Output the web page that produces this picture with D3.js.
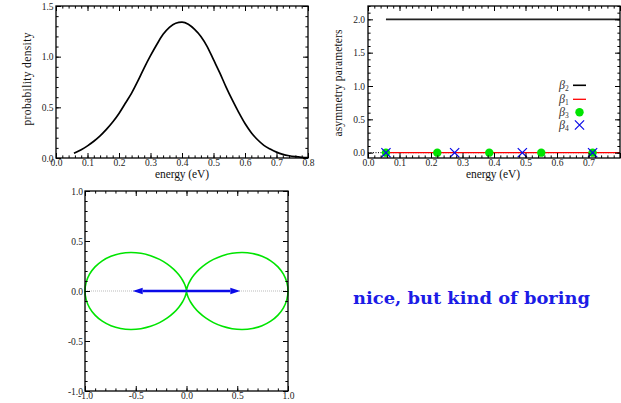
<!DOCTYPE html>
<html><head><meta charset="utf-8">
<script src="https://cdn.jsdelivr.net/npm/d3@7"></script>
<style>
body{margin:0;background:#fff}
svg{display:block}
text{font-family:"Liberation Serif","Times New Roman",serif;fill:#111}
</style>
</head><body>
<svg id="chart" width="621" height="403"></svg>
<script>
// ---------- data ----------
const energy = [0.057,0.08,0.10,0.12,0.14,0.16,0.18,0.20,0.22,0.24,0.26,0.28,0.30,0.32,0.34,0.36,0.38,0.40,0.42,0.44,0.46,0.48,0.50,0.52,0.54,0.56,0.58,0.60,0.62,0.64,0.66,0.68,0.70,0.72,0.74,0.76,0.78,0.80];
const density = [0.046,0.082,0.120,0.165,0.218,0.282,0.355,0.44,0.54,0.64,0.76,0.89,1.01,1.12,1.22,1.29,1.33,1.34,1.32,1.27,1.20,1.10,0.97,0.84,0.70,0.57,0.45,0.34,0.25,0.18,0.125,0.088,0.058,0.036,0.022,0.013,0.007,0.003];

const beta2Energy = [0.057,0.8];
const beta2Value = [2.0,2.0];
const beta1Energy = [0.057,0.8];
const beta1Value = [0.0,0.0];
const beta3Energy = [0.057,0.22,0.385,0.55,0.713];
const beta3Value = [0,0,0,0,0];
const beta4Energy = [0.057,0.275,0.49,0.713];
const beta4Value = [0,0,0,0];
const legendNames = ["2","1","3","4"]; // subscripts of β

const polarAngleDeg = [0,5,10,15,20,25,30,35,40,45,50,55,60,65,70,75,80,85,90,95,100,105,110,115,120,125,130,135,140,145,150,155,160,165,170,175,180,185,190,195,200,205,210,215,220,225,230,235,240,245,250,255,260,265,270,275,280,285,290,295,300,305,310,315,320,325,330,335,340,345,350,355];
const polarRadius = [1,0.9924,0.9698,0.9330,0.8830,0.8214,0.75,0.6710,0.5868,0.5,0.4132,0.3290,0.25,0.1786,0.1170,0.0670,0.0302,0.0076,0,0.0076,0.0302,0.0670,0.1170,0.1786,0.25,0.3290,0.4132,0.5,0.5868,0.6710,0.75,0.8214,0.8830,0.9330,0.9698,0.9924,1,0.9924,0.9698,0.9330,0.8830,0.8214,0.75,0.6710,0.5868,0.5,0.4132,0.3290,0.25,0.1786,0.1170,0.0670,0.0302,0.0076,0,0.0076,0.0302,0.0670,0.1170,0.1786,0.25,0.3290,0.4132,0.5,0.5868,0.6710,0.75,0.8214,0.8830,0.9330,0.9698,0.9924];
const arrowTips = [-0.53,0.53];

const energyTicks = [0,0.1,0.2,0.3,0.4,0.5,0.6,0.7,0.8];
const energyTickLabels1 = ["0.0","0.1","0.2","0.3","0.4","0.5","0.6","0.7","0.8"];
const energyTickLabels2 = ["0.0","0.1","0.2","0.3","0.4","0.5","0.6","0.7"];
const densityTicks = [0,0.5,1.0,1.5];
const densityTickLabels = ["0.0","0.5","1.0","1.5"];
const betaTicks = [0,0.5,1.0,1.5,2.0];
const betaTickLabels = ["0.0","0.5","1.0","1.5","2.0"];
const polarTicks = [-1,-0.5,0,0.5,1];
const polarTickLabels = ["-1.0","-0.5","0.0","0.5","1.0"];

const GREEN = "#00e400";
const BLUE = "#0a0ae8";
const RED = "#ff0000";
const SERIF = "'Liberation Serif','Times New Roman',serif";

const svg = d3.select("#chart");

function frameAxes(x, y, o) {
  const g = svg.append("g");
  const [x0, x1] = x.range();
  const [y0, y1] = y.range(); // y0 bottom, y1 top
  const fmt = labels => (d, i) => (labels[i] !== undefined ? labels[i] : "");
  const major = 5, minor = 2.6;
  g.append("g").attr("transform", `translate(0,${y0})`)
    .call(d3.axisBottom(x).tickValues(x.ticks(o.xMinorN)).tickSize(-minor).tickFormat(""));
  g.append("g").attr("transform", `translate(0,${y0})`)
    .call(d3.axisBottom(x).tickValues(o.xTicks).tickSize(-major).tickPadding(o.xPad).tickFormat(fmt(o.xLabels)));
  g.append("g").attr("transform", `translate(0,${y1})`)
    .call(d3.axisTop(x).tickValues(x.ticks(o.xMinorN)).tickSize(-minor).tickFormat(""));
  g.append("g").attr("transform", `translate(0,${y1})`)
    .call(d3.axisTop(x).tickValues(o.xTicks).tickSize(-major).tickFormat(""));
  g.append("g").attr("transform", `translate(${x0},0)`)
    .call(d3.axisLeft(y).tickValues(y.ticks(o.yMinorN)).tickSize(-minor).tickFormat(""));
  g.append("g").attr("transform", `translate(${x0},0)`)
    .call(d3.axisLeft(y).tickValues(o.yTicks).tickSize(-major).tickPadding(o.yPad).tickFormat(fmt(o.yLabels)));
  g.append("g").attr("transform", `translate(${x1},0)`)
    .call(d3.axisRight(y).tickValues(y.ticks(o.yMinorN)).tickSize(-minor).tickFormat(""));
  g.append("g").attr("transform", `translate(${x1},0)`)
    .call(d3.axisRight(y).tickValues(o.yTicks).tickSize(-major).tickFormat(""));
  g.selectAll(".domain").remove();
  g.selectAll(".tick line").attr("stroke", "#000").attr("stroke-width", 1);
  g.selectAll(".tick text").attr("font-size", 9.5).style("font-family", SERIF).style("fill", "#222");
  g.append("rect").attr("x", x0).attr("y", y1).attr("width", x1 - x0).attr("height", y0 - y1)
    .attr("fill", "none").attr("stroke", "#000").attr("stroke-width", 1.3);
  return g;
}

// ---------- panel 1: probability density ----------
const x1s = d3.scaleLinear().domain([0, 0.8]).range([56, 308]);
const y1s = d3.scaleLinear().domain([0, 1.5]).range([158, 6]);
const p1 = svg.append("g");
p1.append("path")
  .datum(d3.zip(energy, density))
  .attr("fill", "none").attr("stroke", "#000").attr("stroke-width", 1.7)
  .attr("d", d3.line().x(d => x1s(d[0])).y(d => y1s(d[1])).curve(d3.curveMonotoneX));
frameAxes(x1s, y1s, {xTicks: energyTicks, xLabels: energyTickLabels1, xMinorN: 40, xPad: 1.5,
  yTicks: densityTicks, yLabels: densityTickLabels, yMinorN: 15, yPad: 2.5});
svg.append("text").attr("x", 182).attr("y", 178).attr("text-anchor", "middle")
  .attr("font-size", 11.5).attr("textLength", 54).text("energy (eV)");
svg.append("text").attr("transform", "translate(31,79) rotate(-90)").attr("text-anchor", "middle")
  .attr("font-size", 11.5).attr("textLength", 93).text("probability density");

// ---------- panel 2: asymmetry parameters ----------
const x2s = d3.scaleLinear().domain([0, 0.8]).range([368, 620]);
const y2s = d3.scaleLinear().domain([-0.08, 2.2]).range([158, 6]);
const p2 = svg.append("g");
const line2 = d3.line().x(d => x2s(d[0])).y(d => y2s(d[1]));
p2.append("path").datum([[0, 0], [0.8, 0]]).attr("d", line2)
  .attr("stroke", "#000").attr("stroke-width", 1).attr("stroke-dasharray", "1,1.5").attr("fill", "none");
p2.append("path").datum(d3.zip(beta2Energy, beta2Value)).attr("d", line2)
  .attr("stroke", "#222").attr("stroke-width", 1.6).attr("fill", "none");
p2.append("path").datum(d3.zip(beta1Energy, beta1Value)).attr("d", line2)
  .attr("stroke", RED).attr("stroke-width", 1.3).attr("fill", "none");
p2.selectAll("circle.b3").data(d3.zip(beta3Energy, beta3Value)).join("circle")
  .attr("cx", d => x2s(d[0])).attr("cy", d => y2s(d[1])).attr("r", 4.2).attr("fill", GREEN);
const xMark = (cx, cy, s) => `M${cx - s},${cy - s}L${cx + s},${cy + s}M${cx - s},${cy + s}L${cx + s},${cy - s}`;
p2.selectAll("path.b4").data(d3.zip(beta4Energy, beta4Value)).join("path")
  .attr("d", d => xMark(x2s(d[0]), y2s(d[1]), 4.6)).attr("stroke", BLUE).attr("stroke-width", 1.2).attr("fill", "none");
frameAxes(x2s, y2s, {xTicks: energyTicks, xLabels: energyTickLabels2, xMinorN: 40, xPad: 1.5,
  yTicks: betaTicks, yLabels: betaTickLabels, yMinorN: 22, yPad: 3});
svg.append("text").attr("x", 493).attr("y", 178).attr("text-anchor", "middle")
  .attr("font-size", 11.5).attr("textLength", 54).text("energy (eV)");
svg.append("text").attr("transform", "translate(342,83) rotate(-90)").attr("text-anchor", "middle")
  .attr("font-size", 11.5).attr("textLength", 107).text("asymmetry parameters");

// legend
const legY = [85.3, 99.3, 112.3, 125];
legendNames.forEach((n, i) => {
  const t = svg.append("text").attr("x", 559).attr("y", legY[i] + 3.5).attr("font-size", 12);
  t.append("tspan").attr("font-style", "italic").style("fill", "#333").text("β");
  t.append("tspan").attr("font-size", 7.5).attr("dy", 2).style("fill", "#333").text(n);
});
svg.append("line").attr("x1", 573).attr("x2", 586).attr("y1", legY[0]).attr("y2", legY[0]).attr("stroke", "#000").attr("stroke-width", 1.6);
svg.append("line").attr("x1", 573).attr("x2", 586).attr("y1", legY[1]).attr("y2", legY[1]).attr("stroke", RED).attr("stroke-width", 1.3);
svg.append("circle").attr("cx", 579.5).attr("cy", legY[2]).attr("r", 4.2).attr("fill", GREEN);
svg.append("path").attr("d", xMark(579.5, legY[3], 4.6)).attr("stroke", BLUE).attr("stroke-width", 1.2).attr("fill", "none");

// ---------- panel 3: polar distribution ----------
const x3s = d3.scaleLinear().domain([-1, 1]).range([85, 288]);
const y3s = d3.scaleLinear().domain([-1, 1]).range([391, 191]);
const p3 = svg.append("g");
p3.append("line").attr("x1", x3s(-1)).attr("x2", x3s(1)).attr("y1", y3s(0)).attr("y2", y3s(0))
  .attr("stroke", "#aaa").attr("stroke-width", 0.8).attr("stroke-dasharray", "1,1");
const polarPts = d3.zip(polarAngleDeg, polarRadius).map(([a, r]) => [r * Math.cos(a * Math.PI / 180), r * Math.sin(a * Math.PI / 180)]);
p3.append("path").datum(polarPts)
  .attr("d", d3.line().x(d => x3s(d[0])).y(d => y3s(d[1])).curve(d3.curveCatmullRomClosed))
  .attr("fill", "none").attr("stroke", GREEN).attr("stroke-width", 1.6);
arrowTips.forEach(t => {
  const tip = x3s(t), base = tip - Math.sign(t) * 10, cy = y3s(0);
  p3.append("line").attr("x1", x3s(0)).attr("x2", base).attr("y1", cy).attr("y2", cy)
    .attr("stroke", BLUE).attr("stroke-width", 2.6);
  p3.append("path").attr("d", `M${tip},${cy}L${base},${cy - 3.3}L${base},${cy + 3.3}Z`).attr("fill", BLUE);
});
frameAxes(x3s, y3s, {xTicks: polarTicks, xLabels: polarTickLabels, xMinorN: 20, xPad: 1.6,
  yTicks: polarTicks, yLabels: polarTickLabels, yMinorN: 20, yPad: 2});

// ---------- caption ----------
svg.append("text").attr("x", 353).attr("y", 304).attr("font-size", 16.5)
  .style("font-family", "'DejaVu Serif',serif").style("font-weight", "bold")
  .attr("textLength", 237).attr("lengthAdjust", "spacingAndGlyphs").style("fill", "#1c1ce6")
  .text("nice, but kind of boring");
</script>
</body></html>
